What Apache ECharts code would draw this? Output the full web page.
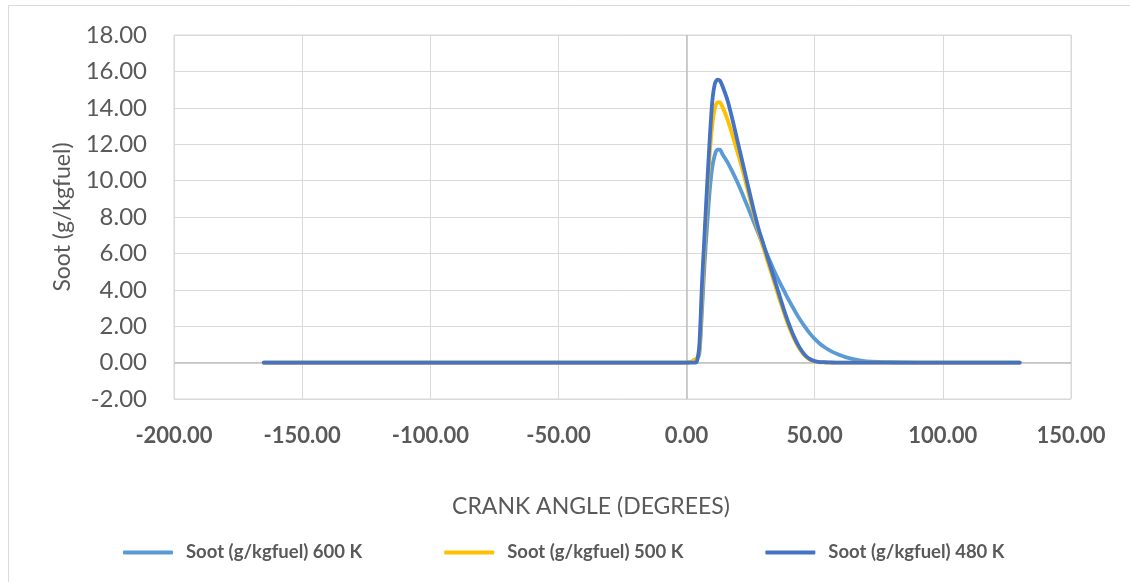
<!DOCTYPE html>
<html>
<head>
<meta charset="utf-8">
<script src="https://cdn.jsdelivr.net/npm/echarts@6/dist/echarts.min.js"></script>
<style>
html,body{margin:0;padding:0;background:#fff;}
#chart{width:1130px;height:582px;}
</style>
</head>
<body>
<div id="chart"></div>
<script>
// Crank angle (degrees)
const angle = [-165, -150, -100, -50, 0, 2, 3, 4, 5, 6, 7, 8, 9, 10, 11, 12, 13, 14, 16, 18, 20, 22, 24, 26, 28, 30, 32, 34, 36, 38, 40, 42, 44, 46, 48, 50, 52, 54, 56, 58, 60, 62, 65, 68, 72, 80, 90, 100, 130];
// Soot (g/kgfuel) 600 K
const soot600 = [0, 0, 0, 0, 0, 0.05, 0.15, 0.2, 0.5, 2.8, 5.4, 7.5, 9.4, 10.7, 11.4, 11.7, 11.7, 11.45, 11.0, 10.45, 9.85, 9.2, 8.5, 7.8, 7.1, 6.4, 5.75, 5.1, 4.5, 3.95, 3.4, 2.9, 2.42, 2.0, 1.62, 1.3, 1.04, 0.83, 0.66, 0.52, 0.4, 0.3, 0.19, 0.11, 0.05, 0.02, 0, 0, 0];
// Soot (g/kgfuel) 500 K
const soot500 = [0, 0, 0, 0, 0, 0.05, 0.15, 0.2, 0.7, 3.6, 6.5, 9.2, 11.4, 13.0, 13.95, 14.3, 14.3, 14.05, 13.35, 12.45, 11.5, 10.5, 9.4, 8.3, 7.25, 6.3, 5.4, 4.5, 3.6, 2.75, 1.95, 1.3, 0.78, 0.4, 0.17, 0.06, 0.02, 0.01, 0, 0, 0, 0, 0, 0, 0, 0, 0, 0, 0];
// Soot (g/kgfuel) 480 K
const soot480 = [0, 0, 0, 0, 0, 0, 0, 0.05, 1.0, 4.3, 7.0, 9.7, 12.2, 14.3, 15.3, 15.55, 15.5, 15.2, 14.4, 13.3, 12.1, 10.9, 9.7, 8.5, 7.4, 6.5, 5.6, 4.7, 3.8, 2.9, 2.1, 1.4, 0.85, 0.45, 0.2, 0.08, 0.03, 0.02, 0.01, 0, 0, 0, 0, 0, 0, 0, 0, 0, 0];
const seriesNames = ['Soot (g/kgfuel) 600 K', 'Soot (g/kgfuel) 500 K', 'Soot (g/kgfuel) 480 K'];
const seriesColors = ['#5B9BD5', '#FFC000', '#4472C4'];
const xTitle = 'CRANK ANGLE (DEGREES)';
const yTitle = 'Soot (g/kgfuel)';

const FONT = 'Lato, "Noto Sans", sans-serif';
const textColor = '#595959';

function pairs(ys){ return angle.map((a,i)=>[a, ys[i]]); }
const allData = [soot600, soot500, soot480];

const series = allData.map((d, i) => ({
  name: seriesNames[i],
  type: 'line',
  data: pairs(d),
  showSymbol: false,
  symbol: 'none',
  smooth: 0.25,
  lineStyle: { width: 3.8, color: seriesColors[i], cap: 'round', join: 'round' },
  itemStyle: { color: seriesColors[i] },
  z: 3 + i
}));
// zero axis lines
series[0].markLine = {
  silent: true, symbol: 'none', label: { show: false },
  lineStyle: { color: '#BFBFBF', width: 1.5, type: 'solid' },
  data: [{ yAxis: 0 }, { xAxis: 0 }],
  z: 2
};

const chart = echarts.init(document.getElementById('chart'), null, { renderer: 'canvas' });
chart.setOption({
  animation: false,
  backgroundColor: '#fff',
  grid: { left: 174, top: 35, right: 59, bottom: 183, show: true, borderColor: '#D9D9D9', borderWidth: 1 },
  xAxis: {
    type: 'value', min: -200, max: 150, interval: 50,
    axisLine: { show: false }, axisTick: { show: false },
    splitLine: { show: true, lineStyle: { color: '#D9D9D9', width: 1 } },
    axisLabel: { formatter: v => v.toFixed(2), fontFamily: FONT, fontWeight: 'bold', fontSize: 22, color: textColor, margin: 26 }
  },
  yAxis: {
    type: 'value', min: -2, max: 18, interval: 2,
    axisLine: { show: false }, axisTick: { show: false },
    splitLine: { show: true, lineStyle: { color: '#D9D9D9', width: 1 } },
    axisLabel: { formatter: v => v.toFixed(2), fontFamily: FONT, fontSize: 24, color: textColor, margin: 27 },
    name: yTitle, nameLocation: 'middle', nameGap: 100,
    nameTextStyle: { fontFamily: FONT, fontSize: 23, color: textColor }
  },
  legend: {
    left: 118, top: 538,
    icon: 'roundRect',
    itemWidth: 50, itemHeight: 4, itemGap: 82,
    data: seriesNames,
    textStyle: { fontFamily: FONT, fontWeight: 'bold', fontSize: 18.5, color: textColor, padding: [0, 0, 0, 8] }
  },
  graphic: [
    { type: 'rect', shape: { x: 8.5, y: 5.5, width: 1140, height: 600 }, style: { fill: 'none', stroke: '#D9D9D9', lineWidth: 1 }, silent: true, z: -1 },
    { type: 'text', style: { text: xTitle, x: 591, y: 507, align: 'center', verticalAlign: 'middle', font: '23px ' + FONT, fill: textColor } }
  ],
  series: series
});
</script>
</body>
</html>
